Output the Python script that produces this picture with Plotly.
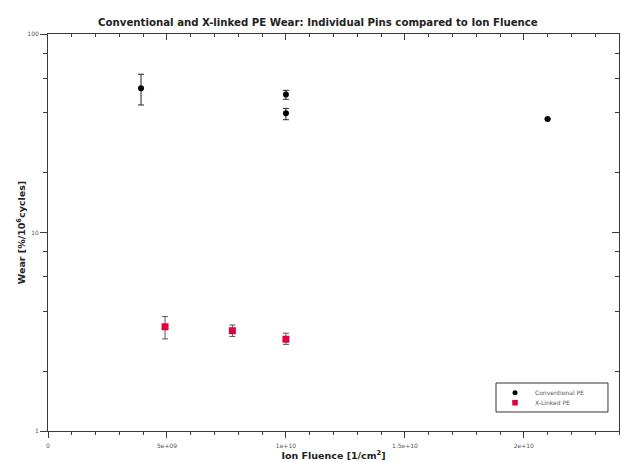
import plotly.graph_objects as go

# Conventional PE pins
conv_fluence = [3.91e9, 1.0e10, 1.0e10, 2.10e10]
conv_wear = [53.3, 49.5, 39.9, 37.3]
conv_err_plus = [9.4, 2.5, 2.3, 0.0]
conv_err_minus = [9.4, 2.6, 2.9, 0.0]

# X-linked PE pins
xl_fluence = [4.92e9, 7.75e9, 1.0e10]
xl_wear = [3.35, 3.20, 2.90]
xl_err_plus = [0.42, 0.22, 0.21]
xl_err_minus = [0.44, 0.21, 0.17]

x_tickvals = [0, 5e9, 1e10, 1.5e10, 2e10]
x_ticktext = ["0", "5e+09", "1e+10", "1.5e+10", "2e+10"]
x_minor = [i * 1e9 for i in range(0, 25) if i % 5]
y_tickvals = [1, 10, 100]
y_ticktext = ["1", "10", "100"]
y_minor = [2, 4, 6, 8, 20, 40, 60, 80]

X_RANGE = [0, 2.4e10]
Y_RANGE = [0, 2]  # log10 of 1 .. 100

CONV_COLOR = "#000000"
XL_COLOR = "#e0003c"

FONT = "DejaVu Sans"
tick_font = dict(family=FONT, size=6, color="#555555")
AX = "#3a3a3a"

fig = go.Figure()

fig.add_trace(go.Scatter(
    x=conv_fluence, y=conv_wear, mode="markers", name="Conventional PE",
    marker=dict(symbol="circle", size=6, color=CONV_COLOR),
    error_y=dict(type="data", array=conv_err_plus, arrayminus=conv_err_minus,
                 color="#222222", thickness=1, width=3),
))
fig.add_trace(go.Scatter(
    x=xl_fluence, y=xl_wear, mode="markers", name="X-Linked PE",
    marker=dict(symbol="square", size=7, color=XL_COLOR),
    error_y=dict(type="data", array=xl_err_plus, arrayminus=xl_err_minus,
                 color="#555566", thickness=1, width=3),
))
# empty trace that carries the top/right frame axes
fig.add_trace(go.Scatter(x=[None], y=[None], xaxis="x2", yaxis="y2",
                         showlegend=False, hoverinfo="skip"))


def x_ticks(direction, major_len, minor_len):
    return dict(tickmode="array", tickvals=x_tickvals, ticks=direction,
                ticklen=major_len, tickcolor=AX,
                minor=dict(tickmode="array", tickvals=x_minor, ticks=direction,
                           ticklen=minor_len, tickcolor=AX))


def y_ticks(direction, major_len, minor_len):
    return dict(tickmode="array", tickvals=y_tickvals, ticks=direction,
                ticklen=major_len, tickcolor=AX,
                minor=dict(tickmode="array", tickvals=y_minor, ticks=direction,
                           ticklen=minor_len, tickcolor=AX))


fig.update_layout(
    width=621, height=462,
    margin=dict(l=48, r=2, t=34, b=31),
    paper_bgcolor="white", plot_bgcolor="white",
    showlegend=False,
    title=dict(
        text="<b>Conventional and X-linked PE Wear: Individual Pins compared to Ion Fluence</b>",
        font=dict(family=FONT, size=10.2, color="#222222"),
        x=0.512, xanchor="center", y=0.951, yanchor="middle",
    ),
    xaxis=dict(
        range=X_RANGE, showline=True, linecolor=AX, showgrid=False, zeroline=False,
        ticktext=x_ticktext, tickfont=tick_font, ticklabelstandoff=3,
        **x_ticks("outside", 6, 3),
        title=dict(text="<b>Ion Fluence [1/cm<sup>2</sup>]</b>",
                   font=dict(family=FONT, size=9.5, color="#222222"), standoff=2),
    ),
    yaxis=dict(
        type="log", range=Y_RANGE, showline=True, linecolor=AX, showgrid=False,
        zeroline=False, ticktext=y_ticktext, tickfont=tick_font,
        **y_ticks("outside", 7, 4),
        title=dict(text="<b>Wear [%/10<sup>6</sup>cycles]</b>",
                   font=dict(family=FONT, size=9.5, color="#222222"), standoff=0),
    ),
    # top and right frame, ticks pointing into the plot
    xaxis2=dict(
        range=X_RANGE, overlaying="x", anchor="y2", side="top", showline=True,
        linecolor=AX, showgrid=False, zeroline=False, showticklabels=False,
        **x_ticks("inside", 6, 3),
    ),
    yaxis2=dict(
        type="log", range=Y_RANGE, overlaying="y", anchor="x2", side="right",
        showline=True, linecolor=AX, showgrid=False, zeroline=False,
        showticklabels=False,
        **y_ticks("inside", 7, 4),
    ),
)

# legend box in the lower right corner of the plot area
LEG_X0, LEG_X1, LEG_Y0, LEG_Y1 = 0.7846, 0.9807, 0.0479, 0.1209
SYM_X, TXT_X = 0.8179, 0.850
ROW_Y = [0.0965, 0.0713]
fig.add_shape(type="rect", xref="paper", yref="paper",
              x0=LEG_X0, x1=LEG_X1, y0=LEG_Y0, y1=LEG_Y1,
              line=dict(color="#333333", width=1), fillcolor="white", layer="above")
fig.add_shape(type="circle", xref="paper", yref="paper",
              xsizemode="pixel", ysizemode="pixel", xanchor=SYM_X, yanchor=ROW_Y[0],
              x0=-2.5, x1=2.5, y0=-2.5, y1=2.5,
              fillcolor=CONV_COLOR, line=dict(width=0), layer="above")
fig.add_shape(type="rect", xref="paper", yref="paper",
              xsizemode="pixel", ysizemode="pixel", xanchor=SYM_X, yanchor=ROW_Y[1],
              x0=-2.8, x1=2.8, y0=-2.8, y1=2.8,
              fillcolor=XL_COLOR, line=dict(width=0), layer="above")
for name, yy in zip(["Conventional PE", "X-Linked PE"], ROW_Y):
    fig.add_annotation(xref="paper", yref="paper", x=TXT_X, y=yy,
                       xanchor="left", yanchor="middle", showarrow=False,
                       text=name, font=dict(family=FONT, size=6, color="#555555"))

fig.write_html("out.html")
